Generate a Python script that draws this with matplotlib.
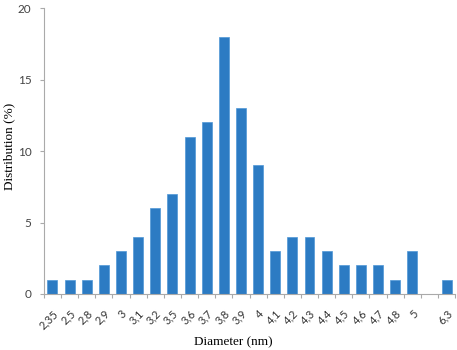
import numpy as np
import matplotlib; matplotlib.use("Agg")
import matplotlib.pyplot as plt

diameters = ["2,35","2,5","2,8","2,9","3","3,1","3,2","3,5","3,6","3,7","3,8","3,9",
             "4","4,1","4,2","4,3","4,4","4,5","4,6","4,7","4,8","5","","6,3"]
distribution = [1,1,1,2,3,4,6,7,11,12,18,13,9,3,4,4,3,2,2,2,1,3,0,1]
yticks = [0,5,10,15,20]

fig = plt.figure(figsize=(4.57,3.5), dpi=100)
ax = fig.add_axes([0.096,0.16,0.9,0.817])
x = np.arange(len(diameters))
ax.bar(x, distribution, width=0.58, color="#2c7bc3", edgecolor="#4f97d6", linewidth=0.5, zorder=2)

ax.set_xlim(-0.5, len(diameters)-0.5)
ax.set_ylim(0, 20)
ax.set_yticks(yticks)
ax.set_yticklabels([str(v) for v in yticks], fontsize=8.5, color="#444444", family="Lato")
ax.set_xticks(x)
ax.set_xticklabels(diameters, rotation=45, ha="right", rotation_mode="anchor",
                   fontsize=8, color="#333333", family="Lato")
ax.tick_params(axis="x", length=0, pad=10)
ax.set_xticks(np.arange(-0.5, len(diameters)), minor=True)
ax.tick_params(axis="x", which="minor", length=3, color="#aaaaaa", width=0.8)
ax.tick_params(axis="y", length=3, color="#aaaaaa", width=0.8, pad=6)

for s in ["top","right"]:
    ax.spines[s].set_visible(False)
for s in ["left","bottom"]:
    ax.spines[s].set_color("#aaaaaa"); ax.spines[s].set_linewidth(0.8)

ax.set_xlabel("Diameter (nm)", family="Liberation Serif", fontsize=9.5)
ax.xaxis.set_label_coords(0.46, -0.148)
ax.set_ylabel("Distribution (%)", family="Liberation Serif", fontsize=9.5)
ax.yaxis.set_label_coords(-0.07, 0.515)

fig.savefig("out.png", dpi=100)
